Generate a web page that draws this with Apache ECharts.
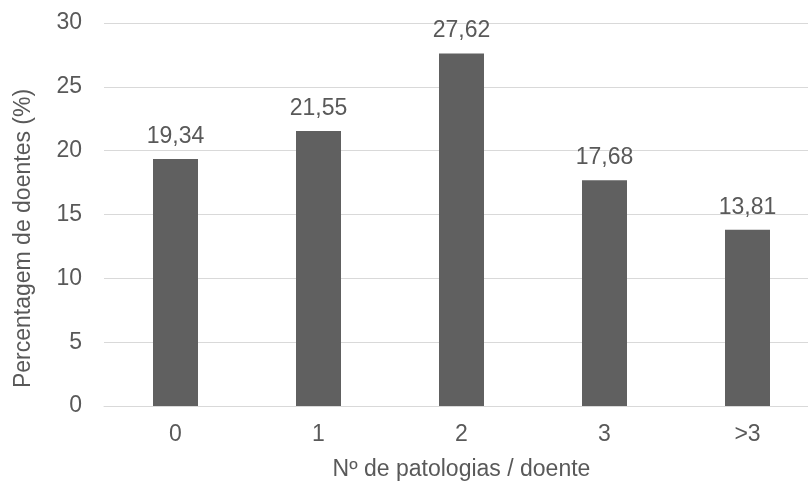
<!DOCTYPE html>
<html><head><meta charset="utf-8">
<script src="https://cdn.jsdelivr.net/npm/echarts@6/dist/echarts.min.js"></script>
<style>html,body{margin:0;padding:0;background:#fff}#c{width:808px;height:482px}</style>
</head><body><div id="c"></div>
<script>
const categories = ['0', '1', '2', '3', '>3'];
const values = [19.34, 21.55, 27.62, 17.68, 13.81];
const yTicks = [0, 5, 10, 15, 20, 25, 30];
const xName = 'Nº de patologias / doente';
const yName = 'Percentagem de doentes (%)';

const chart = echarts.init(document.getElementById('c'));
const txt = '#595959';
const ff = '"Liberation Sans", Arial, sans-serif';
const fs = 23;
chart.setOption({
  animation: false,
  grid: { left: 104, top: 23, width: 715, height: 383, outerBoundsMode: 'none', containLabel: false },
  xAxis: {
    type: 'category', data: categories,
    name: xName, nameLocation: 'middle', nameGap: 52,
    nameTextStyle: { color: txt, fontSize: fs, fontFamily: ff },
    axisLine: { lineStyle: { color: '#d9d9d9', width: 1 } },
    axisTick: { show: false },
    axisLabel: { color: txt, fontSize: fs, fontFamily: ff, margin: 17 }
  },
  yAxis: {
    type: 'value', min: yTicks[0], max: yTicks[yTicks.length - 1], interval: 5,
    name: yName, nameLocation: 'middle', nameGap: 69, nameRotate: 90,
    nameTextStyle: { color: txt, fontSize: fs, fontFamily: ff, padding: [0, 48, 0, 0] },
    axisLine: { show: false }, axisTick: { show: false },
    axisLabel: { color: txt, fontSize: fs, fontFamily: ff, margin: 22 },
    splitLine: { lineStyle: { color: '#d9d9d9', width: 1 } }
  },
  series: [{
    type: 'bar', data: values, barWidth: 45,
    itemStyle: { color: '#606060' },
    label: {
      show: true, position: 'top', distance: 11, color: txt, fontSize: fs, fontFamily: ff,
      formatter: p => p.value.toFixed(2).replace('.', ',')
    }
  }]
});
</script></body></html>
